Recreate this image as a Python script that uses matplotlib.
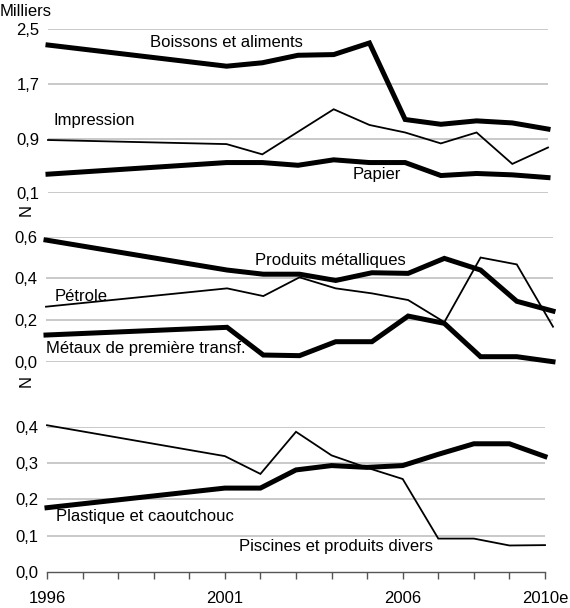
import matplotlib
matplotlib.use("Agg")
import matplotlib.pyplot as plt

plt.rcParams['font.family'] = ['Liberation Sans', 'DejaVu Sans']

years = [1996, 2001, 2002, 2003, 2004, 2005, 2006, 2007, 2008, 2009, 2010]

# Panel 1 (milliers)
boissons = [2.27, 1.96, 2.01, 2.12, 2.13, 2.30, 1.18, 1.11, 1.16, 1.13, 1.04]
impression = [0.88, 0.82, 0.67, 1.00, 1.33, 1.10, 0.99, 0.83, 0.99, 0.53, 0.77]
papier = [0.38, 0.55, 0.55, 0.51, 0.59, 0.55, 0.55, 0.36, 0.39, 0.37, 0.33]

# Panel 2
produits_met = [0.584, 0.44, 0.42, 0.42, 0.39, 0.427, 0.424, 0.496, 0.44, 0.29, 0.243]
petrole = [0.264, 0.352, 0.315, 0.405, 0.352, 0.328, 0.296, 0.19, 0.50, 0.467, 0.168]
metaux = [0.128, 0.165, 0.032, 0.029, 0.096, 0.096, 0.219, 0.184, 0.024, 0.024, 0.0]

# Panel 3
plastique = [0.177, 0.231, 0.231, 0.281, 0.293, 0.288, 0.293, 0.324, 0.353, 0.353, 0.318]
piscines = [0.404, 0.319, 0.27, 0.386, 0.321, 0.287, 0.256, 0.092, 0.092, 0.073, 0.074]

p1_ticks = [0.1, 0.9, 1.7, 2.5]
p2_ticks = [0.0, 0.2, 0.4, 0.6]
p3_ticks = [0.0, 0.1, 0.2, 0.3, 0.4]
xtick_years = [1996, 2001, 2006, 2010]
xtick_labels = ['1996', '2001', '2006', '2010e']

W, H = 570, 608
fig = plt.figure(figsize=(W / 100, H / 100), dpi=100)


def add_ax(left, right, top, bottom):
    return fig.add_axes([left / W, 1 - bottom / H, (right - left) / W, (bottom - top) / H])


def fmt(v):
    return f"{v:.1f}".replace('.', ',')


THICK = 3.6
THIN = 1.3
GRID = '#c0c0c0'
FS = 12

ax1 = add_ax(48, 548, 29.3, 193.3)
ax2 = add_ax(46, 553, 236.7, 361.7)
ax3 = add_ax(47, 545, 426.7, 572)

for ax, ticks in ((ax1, p1_ticks), (ax2, p2_ticks), (ax3, p3_ticks)):
    ax.set_xlim(1996, 2010)
    ax.set_ylim(ticks[0], ticks[-1])
    ax.set_yticks(ticks)
    ax.set_yticklabels([fmt(t) for t in ticks], fontsize=FS)
    ax.tick_params(axis='y', length=0, pad=6)
    for s in ax.spines.values():
        s.set_visible(False)
    ax.set_facecolor('none')
    gl = ticks if ax is not ax3 else ticks[1:]
    for t in gl:
        ax.axhline(t, color=GRID, lw=1.2, zorder=0)

for ax in (ax1, ax2):
    ax.set_xticks([])

lab_map = dict(zip(xtick_years, xtick_labels))
ax3.set_xticks(list(range(1996, 2011)))
ax3.set_xticklabels([lab_map.get(y, '') for y in range(1996, 2011)], fontsize=FS)
ax3.spines['bottom'].set_visible(True)
ax3.spines['bottom'].set_color('#555555')
ax3.spines['bottom'].set_linewidth(1.0)
ax3.tick_params(axis='x', length=5, width=1.0, color='#555555', pad=9)

kw = dict(color='black', clip_on=False, solid_joinstyle='miter', zorder=3)
ax1.plot(years, boissons, lw=THICK, **kw)
ax1.plot(years, impression, lw=THIN, **kw)
ax1.plot(years, papier, lw=THICK, **kw)

ax2.plot(years, produits_met, lw=THICK, **kw)
ax2.plot(years, petrole, lw=THIN, **kw)
ax2.plot(years, metaux, lw=THICK, **kw)

ax3.plot(years, plastique, lw=THICK, **kw)
ax3.plot(years, piscines, lw=THIN, **kw)

# Series labels
ax1.text(1998.86, 2.30, 'Boissons et aliments', fontsize=FS, va='center', ha='left')
ax1.text(1996.14, 1.17, 'Impression', fontsize=FS, va='center', ha='left')
ax1.text(2004.54, 0.37, 'Papier', fontsize=FS, va='center', ha='left')
ax2.text(2001.77, 0.488, 'Produits métalliques', fontsize=FS, va='center', ha='left')
ax2.text(1996.25, 0.312, 'Pétrole', fontsize=FS, va='center', ha='left')
ax2.text(1996.0, 0.064, 'Métaux de première transf.', fontsize=FS, va='center', ha='left')
ax3.text(1996.25, 0.154, 'Plastique et caoutchouc', fontsize=FS, va='center', ha='left')
ax3.text(2001.39, 0.07, 'Piscines et produits divers', fontsize=FS, va='center', ha='left')

# Unit label and axis-break markers
fig.text(0 / W, 1 - 11 / H, 'Milliers', fontsize=FS, va='center', ha='left')
fig.text(26 / W, 1 - 210 / H, 'N', fontsize=12, rotation=90, va='center', ha='center')
fig.text(26 / W, 1 - 381 / H, 'N', fontsize=12, rotation=90, va='center', ha='center')

fig.savefig('out.png', dpi=100)
